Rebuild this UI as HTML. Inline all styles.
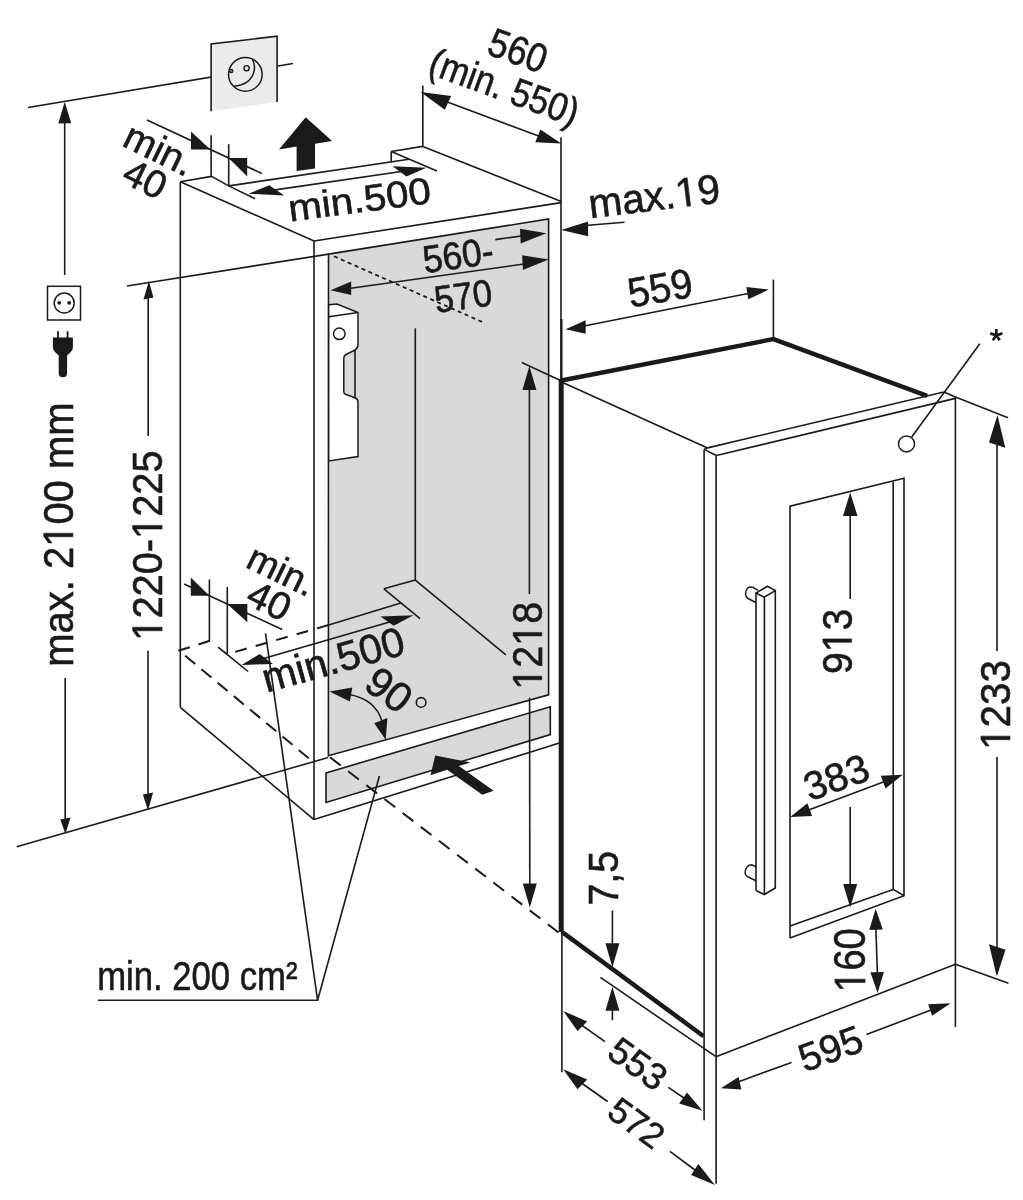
<!DOCTYPE html>
<html><head><meta charset="utf-8"><style>
html,body{margin:0;padding:0;background:#fff;}
svg{display:block;will-change:transform;}
text{font-family:"Liberation Sans",sans-serif;}
.o{fill-opacity:0;stroke-opacity:0;}
</style></head><body>
<svg width="1023" height="1200" viewBox="0 0 1023 1200" stroke-linecap="butt">
<line x1="28.0" y1="107.5" x2="293.0" y2="63.5" stroke="#1a1a1a" stroke-width="1.6"/>
<polygon points="211.1,44.0 277.1,36.2 277.1,102.1 211.1,111.2" fill="#ebebeb"/>
<polyline points="211.1,111.2 211.1,44.0 277.1,36.2 277.1,102.1" fill="none" stroke="#1a1a1a" stroke-width="1.6" stroke-linejoin="miter"/>
<circle cx="245.35" cy="74.4" r="16.8" fill="none" stroke="#1a1a1a" stroke-width="1.5"/>
<circle cx="246.6" cy="68.2" r="2.6" fill="none" stroke="#1a1a1a" stroke-width="1.4"/>
<circle cx="231.3" cy="71" r="1.6" fill="#888" stroke="#1a1a1a" stroke-width="1.2"/>
<path d="M252.5,59.3 C257.5,70 253,84.5 234.2,86.2" fill="none" stroke="#1a1a1a" stroke-width="1.5"/>
<polygon points="305.7,117.3 332.1,141.0 315.0,143.8 315.0,168.6 296.6,171.0 296.6,146.6 279.0,149.6" fill="#1a1a1a"/>
<line x1="64.7" y1="120.0" x2="64.7" y2="275.0" stroke="#1a1a1a" stroke-width="1.6"/>
<polygon points="64.7,101.7 58.3,123.6 71.2,123.2" fill="#1a1a1a"/>
<rect x="47.5" y="286.3" width="33" height="33.7" fill="none" stroke="#1a1a1a" stroke-width="1.5"/>
<circle cx="64.2" cy="303" r="10" fill="none" stroke="#1a1a1a" stroke-width="1.5"/>
<circle cx="59.2" cy="302.8" r="1.9" fill="#1a1a1a"/>
<circle cx="69.2" cy="302.8" r="1.9" fill="#1a1a1a"/>
<line x1="58.0" y1="331.2" x2="58.0" y2="339.0" stroke="#1a1a1a" stroke-width="1.8"/>
<line x1="67.6" y1="331.2" x2="67.6" y2="339.0" stroke="#1a1a1a" stroke-width="1.8"/>
<path d="M52.9,337.5 H72.9 V347.5 Q72.9,350.5 70.3,352.6 L67.1,355.5 V373 Q67.1,377.2 62.9,377.2 Q58.7,377.2 58.7,373 V355.5 L55.5,352.6 Q52.9,350.5 52.9,347.5 Z" fill="#1a1a1a"/>
<line x1="65.2" y1="678.0" x2="65.2" y2="820.0" stroke="#1a1a1a" stroke-width="1.6"/>
<polygon points="65.4,834.0 60.3,819.4 70.5,817.5" fill="#1a1a1a"/>
<line x1="16.7" y1="846.7" x2="328.3" y2="757.5" stroke="#1a1a1a" stroke-width="1.6"/>
<line x1="127.0" y1="286.0" x2="328.5" y2="254.1" stroke="#1a1a1a" stroke-width="1.6"/>
<line x1="148.2" y1="297.0" x2="148.2" y2="436.0" stroke="#1a1a1a" stroke-width="1.6"/>
<polygon points="148.9,281.1 143.5,299.6 153.4,297.6" fill="#1a1a1a"/>
<line x1="148.0" y1="650.8" x2="148.0" y2="795.0" stroke="#1a1a1a" stroke-width="1.6"/>
<polygon points="148.0,810.5 142.9,794.6 153.1,792.5" fill="#1a1a1a"/>
<line x1="180.3" y1="181.8" x2="180.3" y2="707.3" stroke="#1a1a1a" stroke-width="1.6"/>
<line x1="180.3" y1="707.3" x2="314.0" y2="819.6" stroke="#1a1a1a" stroke-width="1.6"/>
<line x1="180.3" y1="181.8" x2="314.0" y2="241.0" stroke="#1a1a1a" stroke-width="1.6"/>
<line x1="314.0" y1="241.0" x2="314.0" y2="819.6" stroke="#1a1a1a" stroke-width="1.6"/>
<line x1="314.0" y1="241.0" x2="561.3" y2="202.6" stroke="#1a1a1a" stroke-width="1.6"/>
<line x1="314.0" y1="819.6" x2="561.0" y2="742.5" stroke="#1a1a1a" stroke-width="1.6"/>
<line x1="561.0" y1="137.3" x2="561.0" y2="320.0" stroke="#1a1a1a" stroke-width="1.6"/>
<line x1="422.8" y1="85.5" x2="422.8" y2="146.4" stroke="#1a1a1a" stroke-width="1.6"/>
<line x1="422.8" y1="146.4" x2="561.3" y2="201.5" stroke="#1a1a1a" stroke-width="1.6"/>
<line x1="180.3" y1="181.8" x2="211.7" y2="176.4" stroke="#1a1a1a" stroke-width="1.6"/>
<line x1="211.7" y1="176.4" x2="228.7" y2="185.9" stroke="#1a1a1a" stroke-width="1.6"/>
<line x1="228.7" y1="185.9" x2="255.1" y2="198.7" stroke="#1a1a1a" stroke-width="1.6"/>
<line x1="228.7" y1="185.9" x2="409.1" y2="159.3" stroke="#1a1a1a" stroke-width="1.6"/>
<line x1="391.2" y1="151.5" x2="422.8" y2="146.4" stroke="#1a1a1a" stroke-width="1.6"/>
<line x1="391.2" y1="151.5" x2="391.2" y2="162.0" stroke="#1a1a1a" stroke-width="1.6"/>
<line x1="391.2" y1="151.5" x2="437.0" y2="171.0" stroke="#1a1a1a" stroke-width="1.6"/>
<line x1="270.0" y1="190.6" x2="410.0" y2="170.2" stroke="#1a1a1a" stroke-width="1.6"/>
<polygon points="248.5,193.8 269.2,185.2 284.4,195.4" fill="#1a1a1a"/>
<polygon points="426.4,167.7 392.4,166.3 406.5,176.4" fill="#1a1a1a"/>
<line x1="147.0" y1="120.0" x2="261.9" y2="173.5" stroke="#1a1a1a" stroke-width="1.6"/>
<line x1="211.1" y1="135.2" x2="211.1" y2="177.3" stroke="#1a1a1a" stroke-width="1.6"/>
<line x1="228.7" y1="144.2" x2="228.7" y2="185.8" stroke="#1a1a1a" stroke-width="1.6"/>
<polygon points="191.0,131.5 191.0,149.6 210.3,149.6" fill="#1a1a1a"/>
<polygon points="228.7,157.9 247.2,157.9 247.2,176.5" fill="#1a1a1a"/>
<polygon points="328.5,254.1 548.6,219.0 548.6,694.8 328.4,755.8" fill="#d9d9d9" stroke="#1a1a1a" stroke-width="1.6" stroke-linejoin="miter"/>
<polygon points="326.0,772.9 550.3,706.8 550.3,734.6 326.0,802.5" fill="#d9d9d9" stroke="#1a1a1a" stroke-width="1.6" stroke-linejoin="miter"/>
<line x1="334.0" y1="256.3" x2="482.1" y2="321.9" stroke="#1a1a1a" stroke-width="1.8" stroke-dasharray="4,3.52"/>
<path d="M328.7,304.7 L337,304 L358,312.5 L358,344.5 Q358,348 355,350 L346,354.5 Q343.8,355.7 343.8,358 L343.8,392 Q343.8,393.8 346,394.5 L355,397.7 Q358,399 358,402 L358,456.5 L328.7,461 Z" fill="#fff" stroke="#1a1a1a" stroke-width="1.5"/>
<line x1="328.7" y1="316.7" x2="358.0" y2="312.5" stroke="#1a1a1a" stroke-width="1.6"/>
<line x1="355.0" y1="350.0" x2="355.0" y2="397.7" stroke="#1a1a1a" stroke-width="1.6"/>
<circle cx="339.3" cy="333.8" r="5.8" fill="#fff" stroke="#1a1a1a" stroke-width="1.5"/>
<line x1="415.3" y1="328.3" x2="415.3" y2="580.1" stroke="#1a1a1a" stroke-width="1.6"/>
<line x1="415.3" y1="580.1" x2="383.9" y2="588.8" stroke="#1a1a1a" stroke-width="1.6"/>
<line x1="383.9" y1="588.8" x2="420.1" y2="618.6" stroke="#1a1a1a" stroke-width="1.6"/>
<line x1="415.3" y1="580.1" x2="505.9" y2="654.8" stroke="#1a1a1a" stroke-width="1.6"/>
<line x1="184.1" y1="584.1" x2="282.2" y2="629.5" stroke="#1a1a1a" stroke-width="1.6"/>
<line x1="209.4" y1="579.6" x2="209.4" y2="640.9" stroke="#1a1a1a" stroke-width="1.6"/>
<line x1="227.3" y1="586.9" x2="227.3" y2="654.7" stroke="#1a1a1a" stroke-width="1.6"/>
<polygon points="190.8,577.4 190.8,595.7 209.4,595.7" fill="#1a1a1a"/>
<polygon points="227.3,604.1 247.3,604.1 247.3,622.3" fill="#1a1a1a"/>
<line x1="178.3" y1="650.8" x2="209.9" y2="640.8" stroke="#1a1a1a" stroke-width="2.0" stroke-dasharray="12,9.1"/>
<line x1="185.2" y1="655.8" x2="308.7" y2="758.2" stroke="#1a1a1a" stroke-width="2.0" stroke-dasharray="13,8.06"/>
<line x1="218.0" y1="647.2" x2="227.3" y2="654.5" stroke="#1a1a1a" stroke-width="1.7"/>
<line x1="227.3" y1="654.7" x2="248.1" y2="671.5" stroke="#1a1a1a" stroke-width="1.6"/>
<line x1="235.2" y1="651.9" x2="328.7" y2="625.0" stroke="#1a1a1a" stroke-width="2.0" stroke-dasharray="12,9.3"/>
<line x1="328.7" y1="625.0" x2="401.6" y2="602.8" stroke="#1a1a1a" stroke-width="1.6"/>
<line x1="330.0" y1="757.3" x2="559.5" y2="933.2" stroke="#1a1a1a" stroke-width="2.0" stroke-dasharray="13.5,9.37"/>
<line x1="255.0" y1="661.0" x2="400.0" y2="619.0" stroke="#1a1a1a" stroke-width="1.6"/>
<polygon points="241.5,664.9 259.7,654.1 273.0,664.1" fill="#1a1a1a"/>
<polygon points="413.5,615.2 380.5,616.5 393.7,625.8" fill="#1a1a1a"/>
<line x1="265.5" y1="633.3" x2="317.6" y2="1000.2" stroke="#1a1a1a" stroke-width="1.6"/>
<line x1="379.4" y1="776.0" x2="317.6" y2="1000.2" stroke="#1a1a1a" stroke-width="1.6"/>
<line x1="97.8" y1="1000.2" x2="318.5" y2="1000.2" stroke="#1a1a1a" stroke-width="1.6"/>
<line x1="340.0" y1="289.7" x2="540.0" y2="261.8" stroke="#1a1a1a" stroke-width="1.6"/>
<polygon points="330.5,290.3 351.2,281.4 351.2,295.0" fill="#1a1a1a"/>
<polygon points="548.6,259.6 522.2,255.2 522.9,269.9" fill="#1a1a1a"/>
<line x1="495.3" y1="239.6" x2="530.0" y2="234.8" stroke="#1a1a1a" stroke-width="1.6"/>
<polygon points="546.4,233.2 520.0,228.8 520.7,243.5" fill="#1a1a1a"/>
<line x1="585.0" y1="225.5" x2="624.5" y2="222.2" stroke="#1a1a1a" stroke-width="1.6"/>
<polygon points="561.1,229.9 588.1,221.5 588.1,236.2" fill="#1a1a1a"/>
<line x1="521.8" y1="362.5" x2="560.5" y2="380.4" stroke="#1a1a1a" stroke-width="1.6"/>
<line x1="529.4" y1="380.0" x2="529.4" y2="594.1" stroke="#1a1a1a" stroke-width="1.6"/>
<polygon points="529.4,366.0 536.4,390.0 522.4,390.0" fill="#1a1a1a"/>
<line x1="529.6" y1="697.8" x2="529.8" y2="890.0" stroke="#1a1a1a" stroke-width="1.6"/>
<polygon points="529.8,907.4 522.8,883.4 536.8,883.4" fill="#1a1a1a"/>
<path d="M349,694.5 Q375,699 382,721" fill="none" stroke="#1a1a1a" stroke-width="1.5"/>
<polygon points="329.4,691.6 352.3,687.5 349.9,701.6" fill="#1a1a1a"/>
<polygon points="385.7,739.7 374.2,723.3 387.4,718.0" fill="#1a1a1a"/>
<circle cx="421.1" cy="702.4" r="4.8" fill="none" stroke="#1a1a1a" stroke-width="1.6"/>
<polygon points="435.2,755.6 470.6,762.5 458.9,765.9 493.6,790.8 482.3,794.7 447.1,769.8 430.5,775.2" fill="#1a1a1a"/>
<line x1="561.3" y1="319.2" x2="561.3" y2="381.0" stroke="#1a1a1a" stroke-width="2.4"/>
<line x1="561.2" y1="379.0" x2="561.2" y2="931.9" stroke="#1a1a1a" stroke-width="5"/>
<polyline points="561.3,380.5 773.4,339.1 927.1,395.8" fill="none" stroke="#1a1a1a" stroke-width="4.5" stroke-linejoin="miter"/>
<line x1="773.4" y1="279.6" x2="773.4" y2="339.0" stroke="#1a1a1a" stroke-width="1.6"/>
<line x1="561.5" y1="382.0" x2="707.6" y2="447.9" stroke="#1a1a1a" stroke-width="1.6"/>
<line x1="707.6" y1="447.9" x2="943.8" y2="392.0" stroke="#1a1a1a" stroke-width="1.6"/>
<line x1="943.8" y1="392.0" x2="955.4" y2="397.0" stroke="#1a1a1a" stroke-width="1.6"/>
<line x1="704.1" y1="449.4" x2="707.6" y2="447.9" stroke="#1a1a1a" stroke-width="1.6"/>
<line x1="704.1" y1="449.4" x2="716.4" y2="455.5" stroke="#1a1a1a" stroke-width="1.6"/>
<line x1="716.4" y1="455.5" x2="955.4" y2="398.4" stroke="#1a1a1a" stroke-width="1.6"/>
<line x1="704.1" y1="449.4" x2="704.1" y2="1120.2" stroke="#1a1a1a" stroke-width="1.6"/>
<line x1="716.1" y1="455.5" x2="716.1" y2="1183.8" stroke="#1a1a1a" stroke-width="1.6"/>
<line x1="955.4" y1="397.0" x2="955.4" y2="1026.9" stroke="#1a1a1a" stroke-width="1.6"/>
<line x1="716.0" y1="1056.7" x2="955.5" y2="964.3" stroke="#1a1a1a" stroke-width="1.6"/>
<line x1="955.5" y1="964.3" x2="1008.5" y2="983.2" stroke="#1a1a1a" stroke-width="1.6"/>
<line x1="955.4" y1="397.1" x2="1008.0" y2="417.7" stroke="#1a1a1a" stroke-width="1.6"/>
<line x1="561.9" y1="931.9" x2="561.9" y2="1072.3" stroke="#1a1a1a" stroke-width="1.6"/>
<polyline points="561.9,931.9 703.6,1036.2" fill="none" stroke="#1a1a1a" stroke-width="4.5" stroke-linejoin="miter"/>
<line x1="600.4" y1="977.4" x2="716.0" y2="1056.7" stroke="#1a1a1a" stroke-width="1.6"/>
<polyline points="790.0,937.9 790.0,506.2 904.0,478.2 904.0,895.8 790.0,937.9" fill="none" stroke="#1a1a1a" stroke-width="1.6" stroke-linejoin="miter"/>
<polyline points="790.0,926.0 893.2,889.4 893.2,482.1" fill="none" stroke="#1a1a1a" stroke-width="1.6" stroke-linejoin="miter"/>
<line x1="893.2" y1="889.4" x2="904.0" y2="895.8" stroke="#1a1a1a" stroke-width="1.6"/>
<polyline points="756.0,890.5 756.0,593.1 764.3,597.2 775.3,590.6 775.3,888.0 764.4,894.5 756.0,890.5" fill="none" stroke="#1a1a1a" stroke-width="1.6" stroke-linejoin="miter"/>
<line x1="764.4" y1="597.2" x2="764.4" y2="894.5" stroke="#1a1a1a" stroke-width="1.6"/>
<polyline points="756.0,593.1 767.5,586.2 775.3,590.6" fill="none" stroke="#1a1a1a" stroke-width="1.6" stroke-linejoin="miter"/>
<path d="M758,590.3 L752.5,587.2 Q746,586 745.5,594 Q745.5,597 748,598.5 L755.8,602.5" fill="none" stroke="#1a1a1a" stroke-width="1.5"/>
<path d="M756.2,867 L751.8,864.8 Q746,865 745,872.5 Q745.2,875.5 747.5,876.5 L756.2,881" fill="none" stroke="#1a1a1a" stroke-width="1.5"/>
<path d="M996.3,329 V335.3 M990.2,333.4 L996.3,335.3 L1002.4,333.4 M992.8,340.3 L996.3,335.3 L999.8,340.3" fill="none" stroke="#1a1a1a" stroke-width="2.7"/>
<line x1="979.8" y1="343.7" x2="911.7" y2="437.0" stroke="#1a1a1a" stroke-width="1.6"/>
<circle cx="906.5" cy="443.9" r="8" fill="#fff" stroke="#1a1a1a" stroke-width="1.5"/>
<line x1="850.2" y1="505.0" x2="850.2" y2="599.0" stroke="#1a1a1a" stroke-width="1.6"/>
<polygon points="850.2,492.5 857.5,516.0 843.0,516.0" fill="#1a1a1a"/>
<line x1="850.2" y1="806.9" x2="850.2" y2="890.0" stroke="#1a1a1a" stroke-width="1.6"/>
<polygon points="850.2,907.5 843.2,884.0 857.2,884.0" fill="#1a1a1a"/>
<line x1="800.0" y1="813.3" x2="890.0" y2="779.5" stroke="#1a1a1a" stroke-width="1.6"/>
<polygon points="790.1,817.0 807.4,803.3 812.1,816.0" fill="#1a1a1a"/>
<polygon points="902.8,774.8 885.5,788.5 880.8,775.8" fill="#1a1a1a"/>
<line x1="875.6" y1="920.0" x2="877.6" y2="980.0" stroke="#1a1a1a" stroke-width="1.6"/>
<polygon points="875.6,908.8 882.8,929.6 869.3,930.0" fill="#1a1a1a"/>
<polygon points="877.6,993.1 870.4,972.3 883.9,971.9" fill="#1a1a1a"/>
<line x1="997.0" y1="430.0" x2="997.0" y2="651.0" stroke="#1a1a1a" stroke-width="1.6"/>
<polygon points="997.4,415.0 989.0,442.5 1005.3,447.8" fill="#1a1a1a"/>
<line x1="997.0" y1="757.0" x2="997.0" y2="950.0" stroke="#1a1a1a" stroke-width="1.6"/>
<polygon points="996.8,976.5 989.0,944.3 1005.5,949.8" fill="#1a1a1a"/>
<line x1="738.0" y1="1082.0" x2="791.5" y2="1062.4" stroke="#1a1a1a" stroke-width="1.6"/>
<line x1="866.5" y1="1034.5" x2="931.0" y2="1010.0" stroke="#1a1a1a" stroke-width="1.6"/>
<polygon points="720.8,1088.3 738.6,1076.9 741.3,1089.6" fill="#1a1a1a"/>
<polygon points="950.7,1003.2 928.2,1004.2 932.1,1015.7" fill="#1a1a1a"/>
<line x1="612.4" y1="910.6" x2="612.4" y2="950.0" stroke="#1a1a1a" stroke-width="1.6"/>
<polygon points="612.4,967.2 605.4,943.2 619.4,943.2" fill="#1a1a1a"/>
<line x1="612.4" y1="1000.0" x2="612.4" y2="1020.2" stroke="#1a1a1a" stroke-width="1.6"/>
<polygon points="612.4,986.7 619.4,1010.7 605.4,1010.7" fill="#1a1a1a"/>
<line x1="580.0" y1="1024.0" x2="605.0" y2="1041.6" stroke="#1a1a1a" stroke-width="1.6"/>
<line x1="668.3" y1="1087.4" x2="684.0" y2="1098.0" stroke="#1a1a1a" stroke-width="1.6"/>
<polygon points="563.2,1010.9 587.2,1021.4 577.5,1031.1" fill="#1a1a1a"/>
<polygon points="702.5,1110.7 687.0,1092.4 679.2,1103.4" fill="#1a1a1a"/>
<line x1="580.0" y1="1082.0" x2="607.6" y2="1101.5" stroke="#1a1a1a" stroke-width="1.6"/>
<line x1="669.9" y1="1151.3" x2="695.0" y2="1170.0" stroke="#1a1a1a" stroke-width="1.6"/>
<polygon points="563.2,1069.3 587.2,1079.5 577.5,1089.2" fill="#1a1a1a"/>
<polygon points="714.9,1185.0 698.4,1163.9 691.1,1174.9" fill="#1a1a1a"/>
<line x1="584.0" y1="326.0" x2="748.0" y2="293.5" stroke="#1a1a1a" stroke-width="1.6"/>
<polygon points="565.6,329.3 585.7,320.3 585.7,333.7" fill="#1a1a1a"/>
<polygon points="769.0,289.6 746.4,287.0 748.2,299.3" fill="#1a1a1a"/>
<line x1="446.0" y1="101.5" x2="540.0" y2="136.5" stroke="#1a1a1a" stroke-width="1.6"/>
<polygon points="420.6,92.0 451.2,95.9 444.8,109.8" fill="#1a1a1a"/>
<polygon points="561.3,143.6 535.3,142.2 540.4,129.5" fill="#1a1a1a"/>
<text transform="translate(513.2,63.7) rotate(20.00) scale(0.880,1)" font-size="40.38" text-anchor="middle" fill="#1a1a1a" stroke="#1a1a1a" stroke-width="0.6">560</text>
<text transform="translate(499.8,99.8) rotate(20.00) scale(0.880,1)" font-size="39.42" text-anchor="middle" fill="#1a1a1a" stroke="#1a1a1a" stroke-width="0.6">(min. 550)</text>
<text transform="translate(361.1,212.2) rotate(-7.40) scale(1.074,1)" font-size="37.51" text-anchor="middle" fill="#1a1a1a" stroke="#1a1a1a" stroke-width="0.6">min.500</text>
<text transform="translate(655.9,210.2) rotate(-7.00) scale(0.979,1)" font-size="41.17" text-anchor="middle" fill="#1a1a1a" stroke="#1a1a1a" stroke-width="0.6">max.<tspan class="o">1</tspan>9</text>
<text transform="translate(459.9,268.2) rotate(-8.00) scale(0.920,1)" font-size="38.58" text-anchor="middle" fill="#1a1a1a" stroke="#1a1a1a" stroke-width="0.6">560-</text>
<text transform="translate(464.9,309.0) rotate(-8.00) scale(0.918,1)" font-size="37.91" text-anchor="middle" fill="#1a1a1a" stroke="#1a1a1a" stroke-width="0.6">570</text>
<text transform="translate(662.5,302.2) rotate(-10.00) scale(0.943,1)" font-size="41.47" text-anchor="middle" fill="#1a1a1a" stroke="#1a1a1a" stroke-width="0.6">559</text>
<text transform="translate(541.8,645.8) rotate(-90.00) scale(0.947,1)" font-size="41.62" text-anchor="middle" fill="#1a1a1a" stroke="#1a1a1a" stroke-width="0.6"><tspan class="o">1</tspan>2<tspan class="o">1</tspan>8</text>
<text transform="translate(153.5,161.2) rotate(26.00)" font-size="38.6" text-anchor="middle" fill="#1a1a1a" stroke="#1a1a1a" stroke-width="0.6">min.</text>
<text transform="translate(139.3,191.0) rotate(26.00)" font-size="38.81" text-anchor="middle" fill="#1a1a1a" stroke="#1a1a1a" stroke-width="0.6">40</text>
<text transform="translate(276.1,581.9) rotate(26.00)" font-size="37.47" text-anchor="middle" fill="#1a1a1a" stroke="#1a1a1a" stroke-width="0.6">min.</text>
<text transform="translate(263.5,612.7) rotate(26.00)" font-size="38.88" text-anchor="middle" fill="#1a1a1a" stroke="#1a1a1a" stroke-width="0.6">40</text>
<text transform="translate(336.9,673.2) rotate(-15.60)" font-size="41.07" text-anchor="middle" fill="#1a1a1a" stroke="#1a1a1a" stroke-width="0.6">min.500</text>
<text transform="translate(851.6,641.3) rotate(-90.00) scale(0.939,1)" font-size="41.74" text-anchor="middle" fill="#1a1a1a" stroke="#1a1a1a" stroke-width="0.6">9<tspan class="o">1</tspan>3</text>
<text transform="translate(1010.0,705.0) rotate(-90.00) scale(0.955,1)" font-size="42.19" text-anchor="middle" fill="#1a1a1a" stroke="#1a1a1a" stroke-width="0.6"><tspan class="o">1</tspan>233</text>
<text transform="translate(841.0,790.2) rotate(-20.00)" font-size="39.8" text-anchor="middle" fill="#1a1a1a" stroke="#1a1a1a" stroke-width="0.6">383</text>
<text transform="translate(865.1,960.2) rotate(-90.00) scale(0.873,1)" font-size="43.93" text-anchor="middle" fill="#1a1a1a" stroke="#1a1a1a" stroke-width="0.6"><tspan class="o">1</tspan>60</text>
<text transform="translate(835.3,1061.3) rotate(-20.00)" font-size="39.17" text-anchor="middle" fill="#1a1a1a" stroke="#1a1a1a" stroke-width="0.6">595</text>
<text transform="translate(630.4,1074.1) rotate(36.00)" font-size="37.08" text-anchor="middle" fill="#1a1a1a" stroke="#1a1a1a" stroke-width="0.6">553</text>
<text transform="translate(629.3,1132.9) rotate(36.00)" font-size="35.63" text-anchor="middle" fill="#1a1a1a" stroke="#1a1a1a" stroke-width="0.6">572</text>
<text transform="translate(617.6,878.2) rotate(-90.00) scale(0.940,1)" font-size="41.95" text-anchor="middle" fill="#1a1a1a" stroke="#1a1a1a" stroke-width="0.6">7,5</text>
<text transform="translate(72.9,534.6) rotate(-90.00) scale(0.943,1)" font-size="42.36" text-anchor="middle" fill="#1a1a1a" stroke="#1a1a1a" stroke-width="0.6">max. 2<tspan class="o">1</tspan>00 mm</text>
<text transform="translate(162.1,545.6) rotate(-90.00) scale(0.928,1)" font-size="42.88" text-anchor="middle" fill="#1a1a1a" stroke="#1a1a1a" stroke-width="0.6"><tspan class="o">1</tspan>220-<tspan class="o">1</tspan>225</text>
<text transform="translate(197.3,990.1) scale(0.863,1)" font-size="40.18" text-anchor="middle" fill="#1a1a1a" stroke="#1a1a1a" stroke-width="0.6">min. 200 cm²</text>
<text transform="translate(380.6,701.4) rotate(36.00)" font-size="41.53" text-anchor="middle" fill="#1a1a1a" stroke="#1a1a1a" stroke-width="0.6">90</text>
<path transform="translate(655.9,210.2) rotate(-7.00) scale(0.979,1) translate(21.71,0.00) scale(0.02010,-0.02010)" d="M515 0V1237L197 1010V1180L530 1409H696V0Z" fill="#1a1a1a" stroke="#1a1a1a" stroke-width="29.8"/>
<path transform="translate(541.8,645.8) rotate(-90.00) scale(0.947,1) translate(-46.30,0.00) scale(0.02032,-0.02032)" d="M515 0V1237L197 1010V1180L530 1409H696V0Z" fill="#1a1a1a" stroke="#1a1a1a" stroke-width="29.5"/>
<path transform="translate(541.8,645.8) rotate(-90.00) scale(0.947,1) translate(0.00,0.00) scale(0.02032,-0.02032)" d="M515 0V1237L197 1010V1180L530 1409H696V0Z" fill="#1a1a1a" stroke="#1a1a1a" stroke-width="29.5"/>
<path transform="translate(851.6,641.3) rotate(-90.00) scale(0.939,1) translate(-11.61,0.00) scale(0.02038,-0.02038)" d="M515 0V1237L197 1010V1180L530 1409H696V0Z" fill="#1a1a1a" stroke="#1a1a1a" stroke-width="29.4"/>
<path transform="translate(1010.0,705.0) rotate(-90.00) scale(0.955,1) translate(-46.93,0.00) scale(0.02060,-0.02060)" d="M515 0V1237L197 1010V1180L530 1409H696V0Z" fill="#1a1a1a" stroke="#1a1a1a" stroke-width="29.1"/>
<path transform="translate(865.1,960.2) rotate(-90.00) scale(0.873,1) translate(-36.65,0.00) scale(0.02145,-0.02145)" d="M515 0V1237L197 1010V1180L530 1409H696V0Z" fill="#1a1a1a" stroke="#1a1a1a" stroke-width="28.0"/>
<path transform="translate(72.9,534.6) rotate(-90.00) scale(0.943,1) translate(-12.94,0.00) scale(0.02068,-0.02068)" d="M515 0V1237L197 1010V1180L530 1409H696V0Z" fill="#1a1a1a" stroke="#1a1a1a" stroke-width="29.0"/>
<path transform="translate(162.1,545.6) rotate(-90.00) scale(0.928,1) translate(-102.54,0.00) scale(0.02094,-0.02094)" d="M515 0V1237L197 1010V1180L530 1409H696V0Z" fill="#1a1a1a" stroke="#1a1a1a" stroke-width="28.7"/>
<path transform="translate(162.1,545.6) rotate(-90.00) scale(0.928,1) translate(7.13,0.00) scale(0.02094,-0.02094)" d="M515 0V1237L197 1010V1180L530 1409H696V0Z" fill="#1a1a1a" stroke="#1a1a1a" stroke-width="28.7"/>
</svg></body></html>
